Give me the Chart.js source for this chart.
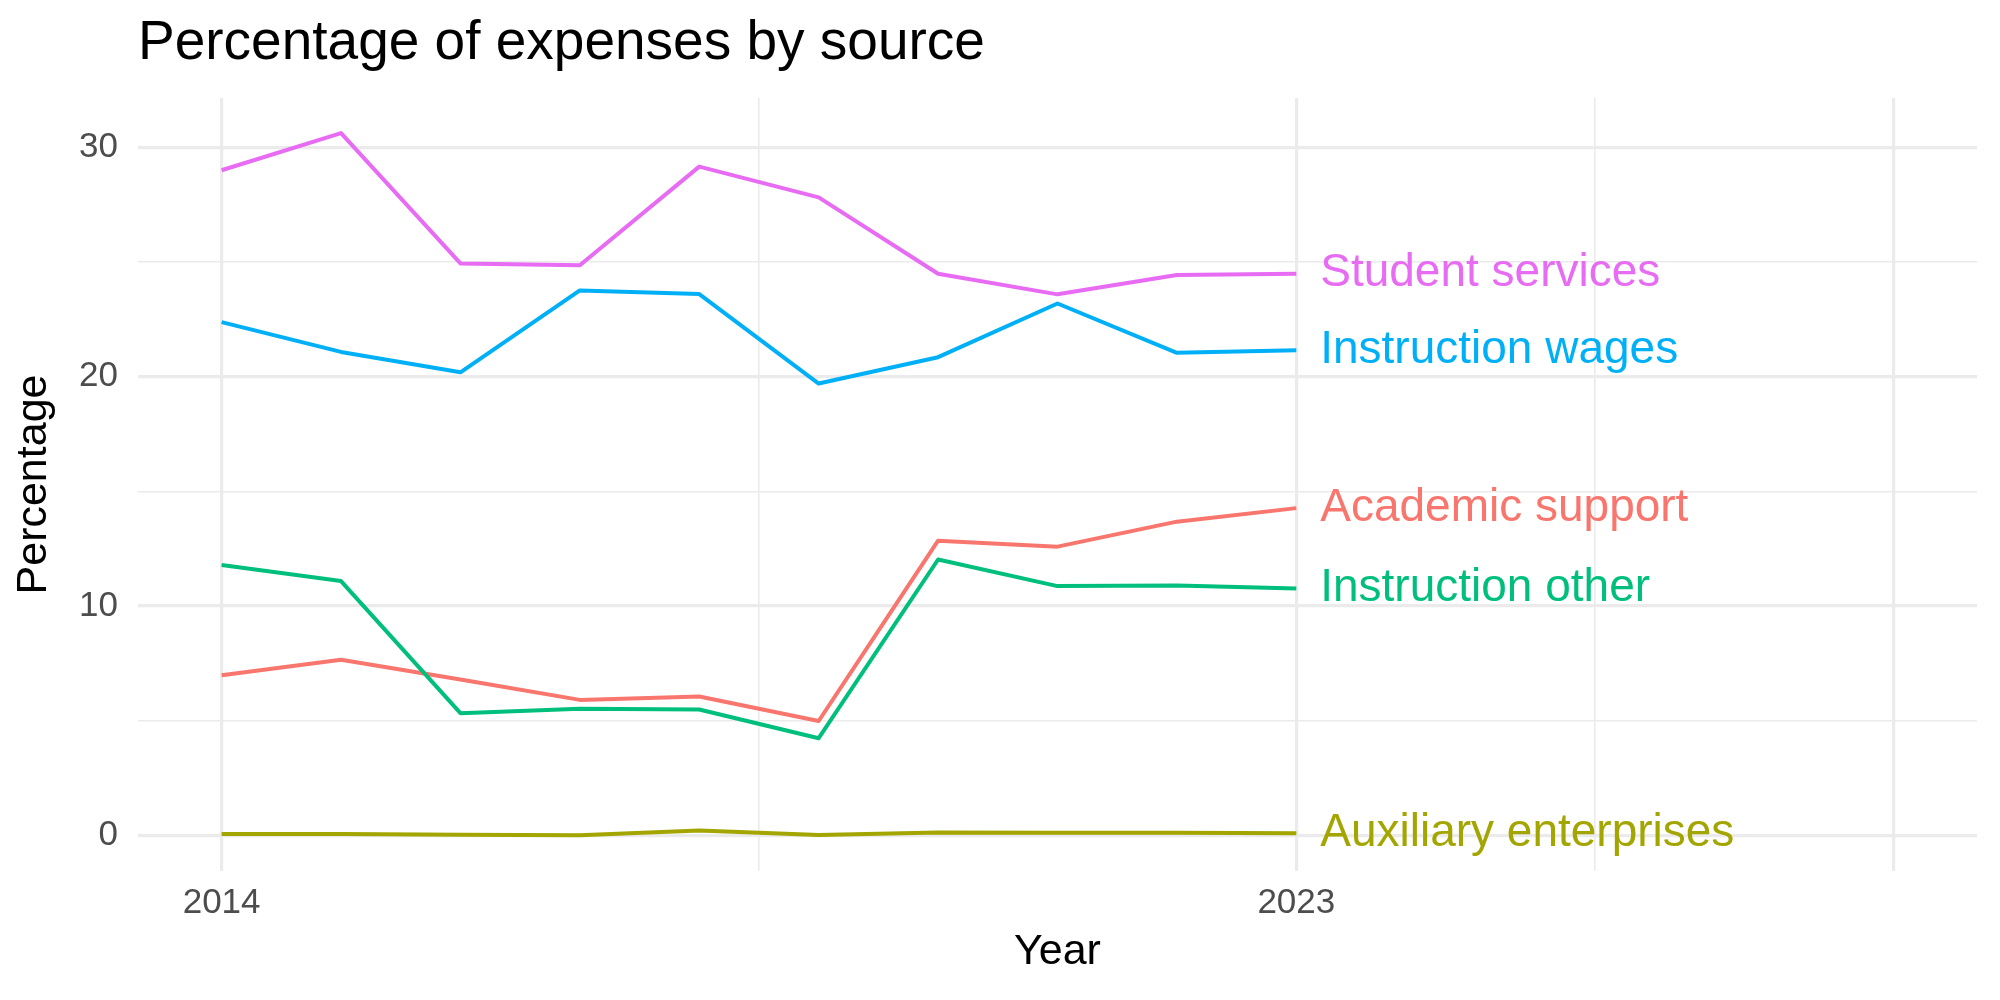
<!DOCTYPE html>
<html>
<head>
<meta charset="utf-8">
<script src="https://cdn.jsdelivr.net/npm/chart.js@4"></script>
<style>
  html, body { margin: 0; background: #fff; }
  #wrap { width: 2000px; height: 1000px; }
</style>
</head>
<body>
<div id="wrap"><canvas id="expensesChart" width="2000" height="1000"></canvas></div>
<script>
// data
const years = [2014, 2015, 2016, 2017, 2018, 2019, 2020, 2021, 2022, 2023];
const academicSupport = [6.98, 7.66, 6.8, 5.91, 6.06, 4.99, 12.85, 12.59, 13.68, 14.27];
const auxiliaryEnterprises = [0.06, 0.06, 0.03, 0.01, 0.22, 0.02, 0.13, 0.12, 0.12, 0.1];
const instructionOther = [11.79, 11.09, 5.33, 5.52, 5.49, 4.24, 12.03, 10.87, 10.9, 10.77];
const instructionWages = [22.38, 21.08, 20.19, 23.76, 23.6, 19.7, 20.85, 23.19, 21.04, 21.15];
const studentServices = [29.0, 30.62, 24.94, 24.86, 29.16, 27.82, 24.49, 23.59, 24.43, 24.49];

const seriesNames = ["Academic support", "Auxiliary enterprises", "Instruction other", "Instruction wages", "Student services"];
const seriesValues = [academicSupport, auxiliaryEnterprises, instructionOther, instructionWages, studentServices];
const seriesColors = ["#F8766D", "#A3A500", "#00BF7D", "#00B0F6", "#E76BF3"];

// axis breaks (ggplot style: majors + minors, only some labelled)
const xMajorBreaks = [2014, 2023, 2028];
const xMinorBreaks = [2018.5, 2025.5];
const xTickLabels = [2014, 2023];
const yMajorBreaks = [0, 10, 20, 30];
const yMinorBreaks = [5, 15, 25];
const yTickLabels = [0, 10, 20, 30];

const FONT = '"Liberation Sans", Arial, sans-serif';
const GRID = "#EBEBEB";

// series names written at the end of each line
const endLabels = {
  id: "endLabels",
  afterDatasetsDraw(chart) {
    const { ctx, scales } = chart;
    ctx.save();
    ctx.font = "46px " + FONT;
    ctx.textAlign = "left";
    ctx.textBaseline = "middle";
    chart.data.datasets.forEach((ds) => {
      const last = ds.data[ds.data.length - 1];
      ctx.fillStyle = ds.borderColor;
      ctx.fillText(ds.label, scales.x.getPixelForValue(last.x + 0.2), scales.y.getPixelForValue(last.y));
    });
    ctx.restore();
  },
};

const datasets = seriesNames.map((name, i) => ({
  label: name,
  data: years.map((yr, j) => ({ x: yr, y: seriesValues[i][j] })),
  borderColor: seriesColors[i],
  backgroundColor: seriesColors[i],
  borderWidth: 4,
  borderJoinStyle: "round",
  pointRadius: 0,
  tension: 0,
  fill: false,
  order: seriesNames.length - i, // later series drawn on top, like ggplot
}));

new Chart(document.getElementById("expensesChart"), {
  type: "line",
  data: { datasets },
  plugins: [endLabels],
  options: {
    responsive: false,
    animation: false,
    devicePixelRatio: 1,
    layout: { padding: { left: 0, right: 23, top: 0, bottom: 0 } },
    plugins: {
      legend: { display: false },
      tooltip: { enabled: false },
      title: {
        display: true,
        text: "Percentage of expenses by source",
        align: "start",
        fullSize: false,
        color: "#000",
        font: { family: FONT, size: 55, weight: "normal" },
        padding: { top: 11, bottom: 21 },
      },
    },
    scales: {
      x: {
        type: "linear",
        min: 2013.3,
        max: 2028.7,
        afterBuildTicks: (s) => {
          s.ticks = [...xMajorBreaks, ...xMinorBreaks].sort((a, b) => a - b).map((v) => ({ value: v }));
        },
        afterFit: (s) => { s.height = 129; },
        border: { display: false },
        grid: {
          color: GRID,
          drawTicks: false,
          lineWidth: (c) => (xMajorBreaks.includes(c.tick.value) ? 3.2 : 1.6),
        },
        ticks: {
          autoSkip: false,
          maxRotation: 0,
          padding: 11,
          color: "#4D4D4D",
          font: { family: FONT, size: 35 },
          callback: (v) => (xTickLabels.includes(v) ? String(v) : ""),
        },
        title: {
          display: true,
          text: "Year",
          color: "#000",
          font: { family: FONT, size: 43 },
          padding: { top: 0, bottom: 22 },
        },
      },
      y: {
        type: "linear",
        min: -1.55,
        max: 32.15,
        afterBuildTicks: (s) => {
          s.ticks = [...yMajorBreaks, ...yMinorBreaks].sort((a, b) => a - b).map((v) => ({ value: v }));
        },
        afterFit: (s) => { s.width = 138; },
        border: { display: false },
        grid: {
          color: GRID,
          drawTicks: false,
          lineWidth: (c) => (yMajorBreaks.includes(c.tick.value) ? 3.2 : 1.6),
        },
        ticks: {
          autoSkip: false,
          padding: 20,
          color: "#4D4D4D",
          font: { family: FONT, size: 35 },
          callback: (v) => (yTickLabels.includes(v) ? String(v) : ""),
        },
        title: {
          display: true,
          text: "Percentage",
          color: "#000",
          font: { family: FONT, size: 43 },
          padding: { top: 8, bottom: 0 },
        },
      },
    },
  },
});
</script>
</body>
</html>
